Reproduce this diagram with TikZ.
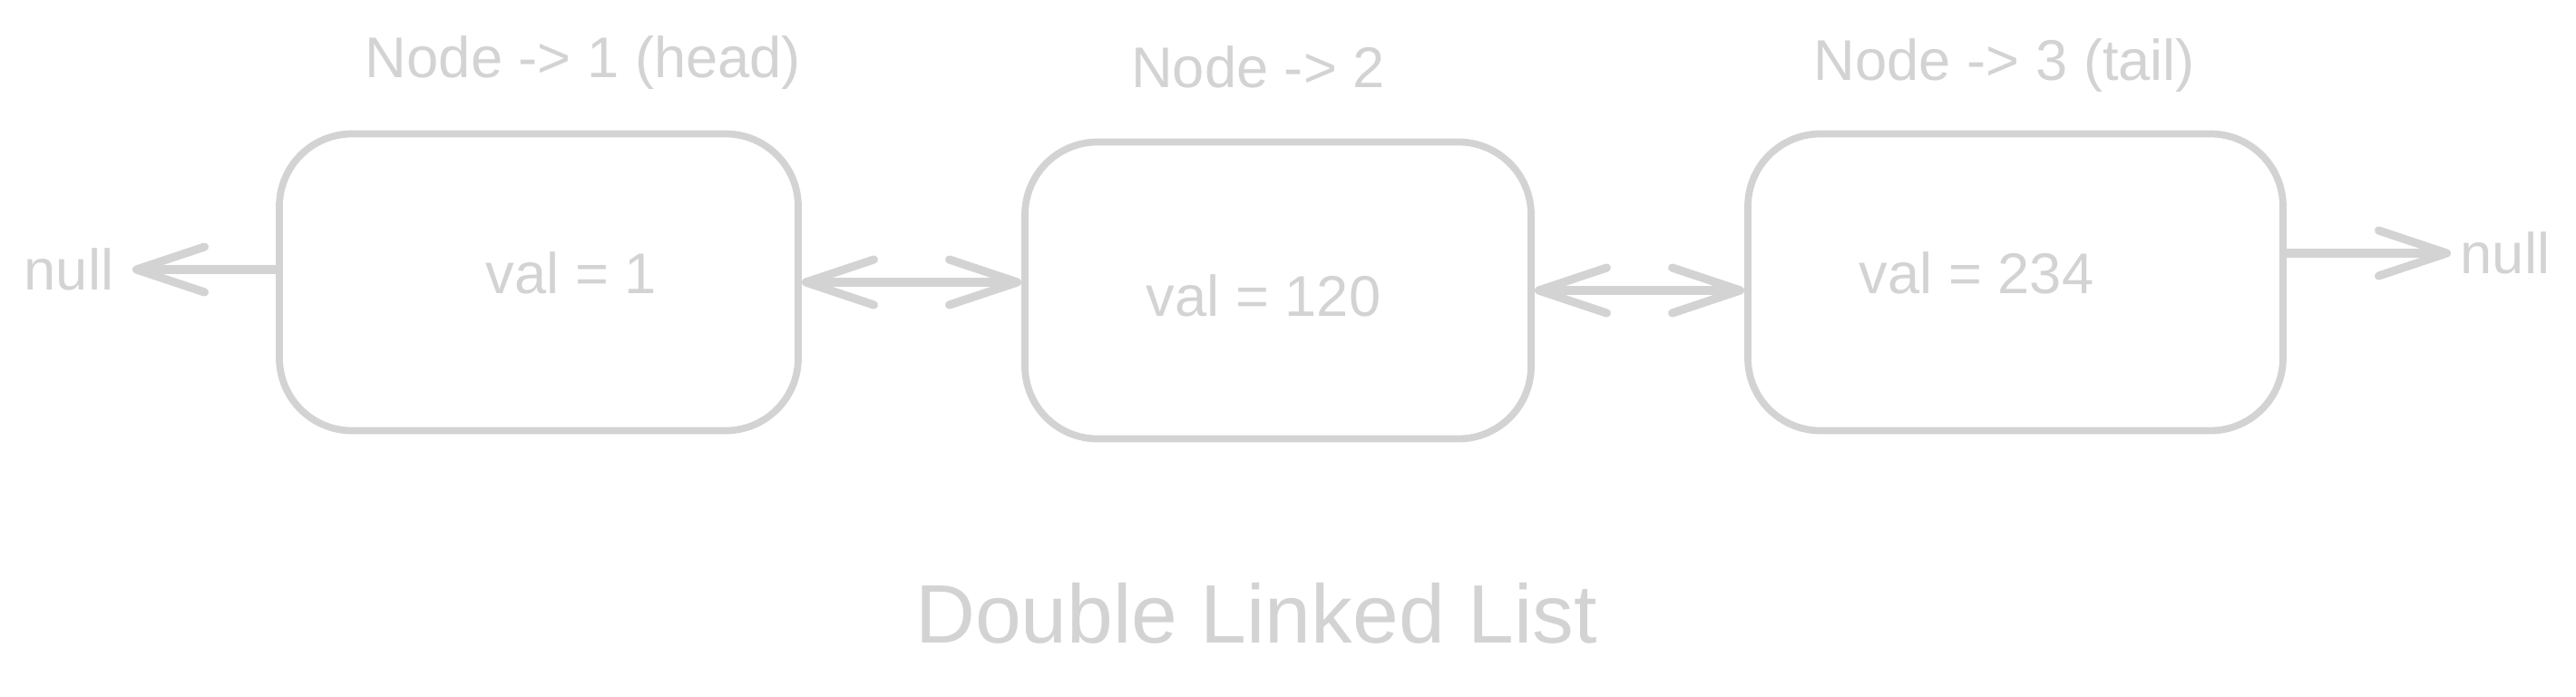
\documentclass[tikz,border=0pt]{standalone}
\usepackage{fontspec}
\setmainfont{Liberation Sans}
\usepackage{tikz}
\usetikzlibrary{arrows.meta,positioning}
\definecolor{sketch}{RGB}{211,211,211}
\tikzset{cell/.style={draw=sketch,line width=2.2pt,rounded corners=0.8cm,minimum height=3.27cm,inner sep=0pt},
lbl/.style={text=sketch,font=\fontsize{18}{22}\selectfont,inner sep=1pt},
barb/.tip={Straight Barb[length=0.75cm,width=0.5cm,round]}}
\tikzstyle{link} = [draw=sketch,line width=2.6pt,line cap=round]

\begin{document}
\begin{tikzpicture}
		\useasboundingbox (0,0) rectangle (28.4,7.67);
		\begin{scope}[every node/.style={cell}]
			\node[minimum width=5.72cm] (N1) at (5.94,4.56) {};
			\node[minimum width=5.58cm] (N2) at (14.09,4.47) {};
			\node[minimum width=5.90cm] (N3) at (22.22,4.56) {};
		\end{scope}

		\begin{scope}[every node/.style={lbl}]
			\node (T1) at (6.43,6.98) {Node -> 1 (head)};
			\node (T2) at (13.87,6.93) {Node -> 2};
			\node (T3) at (22.10,6.95) {Node -> 3 (tail)};
			\node (V1) at (6.30,4.66) {val = 1};
			\node (V2) at (13.93,4.41) {val = 120};
			\node (V3) at (21.79,4.66) {val = 234};
			\node[inner xsep=0.2cm] (nullL) at (0.76,4.70) {null};
			\node[inner xsep=0.1cm] (nullR) at (27.62,4.88) {null};
			\node[font=\fontsize{26}{30}\selectfont] (title) at (13.85,0.91) {Double Linked List};
		\end{scope}

		\begin{scope}[every path/.style={link}]
			\path [-barb] (N1.west |- nullL) -- (nullL);
			\path [barb-barb] (N1.east) -- (N2.west |- N1.east);
			\path [barb-barb] (N2.east) -- (N3.west |- N2.east);
			\path [-barb] (N3.east |- nullR) -- (nullR);
		\end{scope}
	\end{tikzpicture}
\end{document}
